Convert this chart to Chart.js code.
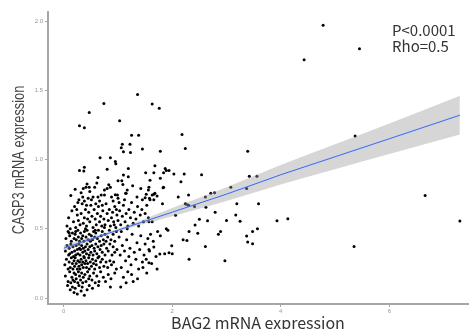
<!DOCTYPE html>
<html>
<head>
<meta charset="utf-8">
<script src="https://cdn.jsdelivr.net/npm/chart.js@4.4.1/dist/chart.umd.min.js"></script>
<style>
  html, body { margin: 0; padding: 0; background: #fff; }
  #wrap { width: 472px; height: 329px; }
</style>
</head>
<body>
<div id="wrap"><canvas id="scatterChart"></canvas></div>
<script>
// BAG2 (x) vs CASP3 (y) mRNA expression as [x, y]
const samples = [
  // sparse / outlying points
  [4.78,1.97],[5.45,1.80],[4.43,1.72],[5.37,1.17],[6.66,0.74],[7.30,0.556],[5.35,0.373],
  [1.63,1.40],[1.76,1.37],[1.36,1.47],[0.74,1.405],[0.47,1.34],[0.29,1.244],[0.38,1.23],[1.03,1.28],
  [2.18,1.18],[2.24,1.08],[1.78,1.06],[3.39,1.06],[1.25,1.175],[1.38,1.175],[1.08,1.11],[1.22,1.11],
  [1.06,1.085],[1.10,1.056],[1.23,1.05],[1.45,1.076],
  [0.67,1.013],[0.86,1.013],[0.95,0.985],[0.96,0.97],[1.19,0.936],[0.80,0.93],[0.29,0.92],[0.38,0.944],[0.37,0.917],
  [1.68,0.955],[1.89,0.92],[1.94,0.92],[1.66,0.905],[1.84,0.905],[2.03,0.895],[2.22,0.895],[2.54,0.89],
  [3.42,0.88],[3.56,0.88],[1.51,0.905],[1.87,0.936],[1.10,0.888],
  [1.59,0.85],[1.78,0.864],[2.16,0.84],[1.84,0.80],[3.08,0.80],[3.37,0.79],[1.57,0.80],[0.63,0.87],
  [1.68,0.756],[1.63,0.744],[1.72,0.736],[2.30,0.744],[2.11,0.73],[2.61,0.73],[2.71,0.756],[2.78,0.76],
  [0.21,0.785],[0.43,0.823],[0.41,0.80],[1.00,0.847],[1.07,0.847],[1.09,0.82],[1.19,0.876],[0.83,0.818],
  [0.80,0.79],[0.86,0.80],[0.47,0.80],[0.32,0.76],[0.35,0.73],[0.28,0.71],[1.17,0.78],[1.14,0.756],
  [0.99,0.744],[0.95,0.746],[1.42,0.79],[1.52,0.749],[1.56,0.78],[1.66,0.75],[1.58,0.72],[1.45,0.71],
  [1.50,0.724],[1.83,0.797],[0.75,0.78],[0.75,0.744],[0.57,0.80],[0.48,0.77],[0.54,0.73],[0.63,0.73],
  [0.69,0.744],[0.51,0.71],[0.66,0.70],[0.91,0.70],[1.00,0.72],[1.15,0.756],[0.38,0.70],[0.36,0.79],
  [1.59,0.71],[1.66,0.71],[1.82,0.68],[2.24,0.68],[2.30,0.67],[2.41,0.66],[2.62,0.655],[3.19,0.68],
  [3.59,0.68],[2.79,0.62],[2.06,0.597],[3.17,0.60],[2.50,0.568],[2.42,0.527],[2.65,0.558],[3.00,0.56],
  [3.25,0.554],[3.93,0.558],[4.13,0.573],[1.57,0.55],[1.63,0.55],[2.26,0.677],
  [1.73,0.48],[1.78,0.45],[1.89,0.50],[1.92,0.49],[2.31,0.48],[2.47,0.467],[2.89,0.48],[2.85,0.46],
  [3.37,0.448],[3.48,0.48],[3.57,0.50],[2.20,0.42],[2.27,0.416],[3.39,0.404],[3.48,0.392],[2.61,0.373],
  [1.99,0.378],[1.66,0.368],[1.57,0.35],[1.77,0.318],[1.86,0.32],[1.94,0.327],[2.00,0.32],[2.31,0.28],
  [2.97,0.27],[1.57,0.255],
  // dense core, y 0.0 - 0.1
  [0.07,0.09],[0.12,0.06],[0.16,0.08],[0.19,0.04],[0.21,0.07],[0.25,0.03],[0.28,0.09],[0.32,0.05],
  [0.34,0.08],[0.38,0.02],[0.43,0.06],[0.47,0.09],[0.53,0.07],[0.64,0.09],[0.86,0.08],
  // y 0.1 - 0.2
  [0.03,0.16],[0.08,0.12],[0.11,0.19],[0.13,0.11],[0.15,0.15],[0.17,0.13],[0.19,0.18],[0.20,0.12],
  [0.22,0.17],[0.23,0.14],[0.26,0.11],[0.27,0.19],[0.29,0.16],[0.31,0.13],[0.33,0.18],[0.35,0.11],
  [0.36,0.15],[0.39,0.17],[0.41,0.12],[0.44,0.19],[0.46,0.14],[0.48,0.16],[0.52,0.13],[0.55,0.18],
  [0.58,0.11],[0.61,0.16],[0.65,0.12],[0.68,0.19],[0.73,0.15],[0.77,0.12],[0.82,0.17],[0.87,0.14],
  [0.94,0.18],
  // y 0.2 - 0.3
  [0.02,0.24],[0.05,0.28],[0.08,0.21],[0.10,0.26],[0.12,0.22],[0.14,0.29],[0.16,0.25],[0.17,0.21],
  [0.19,0.27],[0.20,0.23],[0.21,0.29],[0.23,0.25],[0.25,0.21],[0.26,0.27],[0.28,0.23],[0.29,0.26],
  [0.30,0.21],[0.32,0.28],[0.33,0.24],[0.35,0.26],[0.36,0.22],[0.38,0.29],[0.39,0.25],[0.41,0.27],
  [0.42,0.22],[0.44,0.25],[0.46,0.29],[0.47,0.21],[0.49,0.26],[0.51,0.23],[0.53,0.28],[0.55,0.25],
  [0.57,0.21],[0.59,0.27],[0.60,0.24],[0.63,0.29],[0.66,0.22],[0.68,0.26],[0.71,0.28],[0.74,0.23],
  [0.78,0.26],[0.81,0.22],[0.85,0.27],[0.88,0.24],[0.92,0.26],[0.97,0.21],
  // y 0.3 - 0.4
  [0.03,0.34],[0.06,0.38],[0.09,0.31],[0.10,0.36],[0.11,0.32],[0.13,0.39],[0.15,0.33],[0.17,0.37],
  [0.18,0.30],[0.20,0.34],[0.22,0.31],[0.23,0.38],[0.25,0.35],[0.26,0.32],[0.28,0.39],[0.29,0.36],
  [0.30,0.31],[0.31,0.35],[0.33,0.38],[0.35,0.33],[0.36,0.36],[0.37,0.30],[0.39,0.34],[0.40,0.37],
  [0.42,0.32],[0.43,0.39],[0.45,0.35],[0.47,0.31],[0.48,0.37],[0.50,0.33],[0.52,0.38],[0.54,0.31],
  [0.56,0.36],[0.57,0.34],[0.59,0.39],[0.61,0.32],[0.63,0.37],[0.65,0.30],[0.67,0.35],[0.69,0.38],
  [0.71,0.33],[0.74,0.39],[0.76,0.31],[0.79,0.36],[0.82,0.34],[0.85,0.39],[0.89,0.31],[0.91,0.37],
  [0.94,0.33],[0.98,0.35],
  // y 0.4 - 0.5
  [0.04,0.43],[0.08,0.48],[0.11,0.45],[0.14,0.41],[0.16,0.47],[0.19,0.43],[0.21,0.46],[0.23,0.42],
  [0.26,0.49],[0.27,0.44],[0.29,0.41],[0.31,0.47],[0.33,0.43],[0.35,0.45],[0.37,0.41],[0.38,0.48],
  [0.41,0.44],[0.43,0.49],[0.45,0.42],[0.47,0.46],[0.49,0.41],[0.51,0.45],[0.53,0.42],[0.55,0.48],
  [0.57,0.44],[0.59,0.47],[0.62,0.43],[0.64,0.49],[0.66,0.41],[0.69,0.45],[0.71,0.48],[0.73,0.42],
  [0.76,0.46],[0.78,0.41],[0.81,0.44],[0.84,0.49],[0.87,0.42],[0.91,0.46],[0.94,0.41],[0.97,0.48],
  // middle band, y 0.5 - 0.9
  [0.06,0.52],[0.09,0.58],[0.12,0.50],[0.15,0.63],[0.18,0.55],[0.20,0.66],[0.22,0.51],[0.25,0.60],
  [0.27,0.56],[0.30,0.53],[0.32,0.61],[0.34,0.68],[0.36,0.54],[0.38,0.58],[0.40,0.64],[0.42,0.52],
  [0.44,0.57],[0.46,0.62],[0.48,0.55],[0.50,0.67],[0.52,0.59],[0.54,0.51],[0.56,0.64],[0.58,0.57],
  [0.60,0.53],[0.62,0.61],[0.64,0.66],[0.66,0.55],[0.68,0.59],[0.70,0.52],[0.72,0.63],[0.74,0.57],
  [0.76,0.53],[0.78,0.68],[0.80,0.61],[0.82,0.56],[0.84,0.64],[0.86,0.52],[0.88,0.58],[0.90,0.62],
  [0.92,0.55],[0.94,0.66],[0.96,0.51],[0.98,0.60],[1.00,0.56],[1.03,0.63],[1.05,0.53],[1.08,0.59],
  [1.10,0.67],[1.13,0.55],[1.15,0.61],[1.18,0.52],[1.20,0.64],[1.23,0.58],[1.25,0.69],[1.28,0.54],
  [1.30,0.62],[1.33,0.57],[1.36,0.66],[1.38,0.52],[1.41,0.60],[1.44,0.64],[1.47,0.55],[1.50,0.61],
  [1.53,0.67],[1.56,0.58],[0.13,0.74],[0.26,0.69],[0.45,0.72],[0.59,0.68],[0.71,0.67],[0.88,0.73],
  [1.02,0.69],[0.24,0.64],[0.42,0.67],[0.97,0.64],[1.12,0.71],[1.35,0.73],[0.61,0.83],[1.27,0.81],
  [0.10,0.47],[0.22,0.48],[0.40,0.50],[0.58,0.49],[0.75,0.51],[0.93,0.53],[1.06,0.48],[1.17,0.50],
  // right of the core
  [1.02,0.44],[1.04,0.31],[1.06,0.22],[1.08,0.38],[1.10,0.15],[1.12,0.34],[1.14,0.27],[1.16,0.42],
  [1.18,0.19],[1.20,0.30],[1.22,0.36],[1.24,0.24],[1.26,0.46],[1.28,0.12],[1.30,0.33],[1.33,0.28],
  [1.35,0.40],[1.38,0.21],[1.40,0.35],[1.42,0.45],[1.45,0.26],[1.48,0.31],[1.50,0.39],[1.53,0.18],
  [1.55,0.43],[1.05,0.08],[1.15,0.11],[1.25,0.17],[1.36,0.14],[1.46,0.22],[1.52,0.28],[1.58,0.34],
  [1.60,0.46],[1.62,0.25],[1.65,0.41],[1.70,0.30],[1.72,0.21]
];

// fitted line and its confidence band
const fitX = [0, 1, 2, 3, 4, 5, 6, 7.3];
const fitY = [0.36, 0.49, 0.62, 0.75, 0.89, 1.02, 1.15, 1.32];
const bandLo = [0.34, 0.48, 0.59, 0.70, 0.82, 0.93, 1.04, 1.18];
const bandHi = [0.38, 0.50, 0.65, 0.80, 0.96, 1.11, 1.26, 1.46];

const xTicks = [0, 2, 4, 6];
const yTicks = [0, 0.5, 1.0, 1.5, 2.0];
const xTitle = 'BAG2 mRNA expression';
const yTitle = 'CASP3 mRNA expression';
const statLines = ['P<0.0001', 'Rho=0.5'];

const toXY = (xs, ys) => xs.map((x, i) => ({ x: x, y: ys[i] }));

// axis titles and the stats note, drawn by hand so the y title can be condensed
const textLayer = {
    id: 'textLayer',
    afterDraw(chart) {
        const ctx = chart.ctx;
        const area = chart.chartArea;
        ctx.save();
        ctx.textBaseline = 'middle';

        ctx.fillStyle = '#333';
        ctx.font = '15px "Noto Sans CJK JP", "Liberation Sans", sans-serif';
        ctx.fillText(statLines[0], 392, 30);
        ctx.fillText(statLines[1], 392, 46);

        ctx.textAlign = 'center';
        ctx.font = '16px "Noto Sans CJK JP", "Liberation Sans", sans-serif';
        ctx.fillText(xTitle, (area.left + area.right) / 2, 323);

        ctx.fillStyle = '#444';
        ctx.translate(20, (area.top + area.bottom) / 2 + 2);
        ctx.rotate(-Math.PI / 2);
        ctx.scale(0.8, 1);
        ctx.font = '16px "Liberation Sans", sans-serif';
        ctx.fillText(yTitle, 0, 0);
        ctx.restore();
    }
};

const axisGrey = '#a6a6a6';
const tickFont = { size: 6, family: '"Liberation Sans", sans-serif' };

new Chart(document.getElementById('scatterChart'), {
    type: 'scatter',
    data: {
        datasets: [
            {
                data: toXY(fitX, fitY),
                showLine: true,
                borderColor: '#3366ff',
                borderWidth: 1,
                pointRadius: 0,
                fill: false,
                order: 0
            },
            {
                data: toXY(fitX, bandHi),
                showLine: true,
                borderWidth: 0,
                borderColor: 'rgba(0,0,0,0)',
                backgroundColor: 'rgba(153,153,153,0.4)',
                pointRadius: 0,
                cubicInterpolationMode: 'monotone',
                fill: '+1',
                order: 1
            },
            {
                data: toXY(fitX, bandLo),
                showLine: true,
                borderWidth: 0,
                borderColor: 'rgba(0,0,0,0)',
                pointRadius: 0,
                cubicInterpolationMode: 'monotone',
                fill: false,
                order: 2
            },
            {
                data: samples.map(p => ({ x: p[0], y: p[1] })),
                backgroundColor: '#000',
                borderWidth: 0,
                pointRadius: 1.5,
                order: 3
            }
        ]
    },
    options: {
        responsive: true,
        maintainAspectRatio: false,
        animation: false,
        layout: { padding: { top: 12, right: 0, left: 0, bottom: 0 } },
        plugins: { legend: { display: false }, tooltip: { enabled: false } },
        scales: {
            x: {
                type: 'linear',
                min: -0.29,
                max: 7.45,
                afterFit: s => { s.height = 25; },
                afterBuildTicks: s => { s.ticks = xTicks.map(v => ({ value: v })); },
                ticks: { font: tickFont, color: '#999', padding: 1, includeBounds: false, callback: v => String(v) },
                grid: { drawOnChartArea: false, tickLength: 3, color: axisGrey },
                border: { color: axisGrey, width: 2 }
            },
            y: {
                type: 'linear',
                min: -0.043,
                max: 2.065,
                afterFit: s => { s.width = 48; },
                afterBuildTicks: s => { s.ticks = yTicks.map(v => ({ value: v })); },
                ticks: { font: tickFont, color: '#999', padding: 2, includeBounds: false, callback: v => v.toFixed(1) },
                grid: { drawOnChartArea: false, tickLength: 3, color: axisGrey },
                border: { color: axisGrey, width: 2 }
            }
        }
    },
    plugins: [textLayer]
});
</script>
</body>
</html>
